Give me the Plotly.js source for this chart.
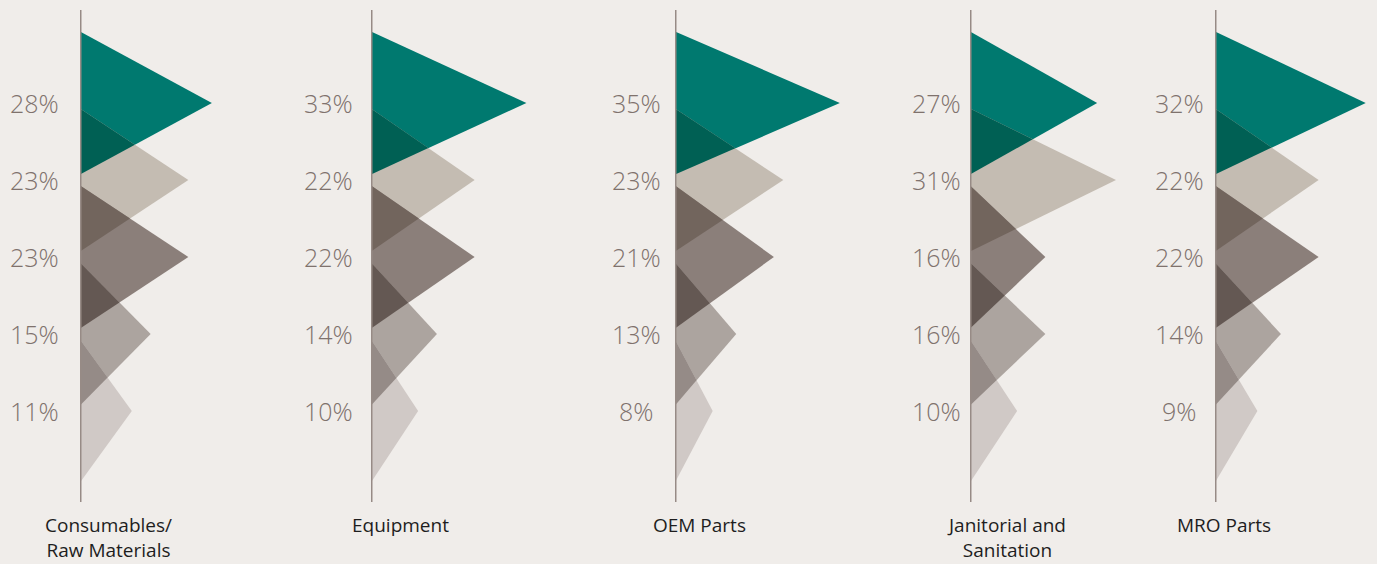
<!DOCTYPE html>
<html>
<head>
<meta charset="utf-8">
<script src="https://cdn.plot.ly/plotly-3.0.1.min.js"></script>
<style>
  html, body { margin: 0; padding: 0; background: #f0edea; }
  #chart { width: 1377px; height: 564px; }
</style>
</head>
<body>
<div id="chart"></div>
<script>
// ---- data ----
const categories = ["Consumables/<br>Raw Materials", "Equipment", "OEM Parts", "Janitorial and<br>Sanitation", "MRO Parts"];
const consumables = [28, 23, 23, 15, 11];
const equipment   = [33, 22, 22, 14, 10];
const oemParts    = [35, 23, 21, 13, 8];
const janitorial  = [27, 31, 16, 16, 10];
const mroParts    = [32, 22, 22, 14, 9];
const panelValues = [consumables, equipment, oemParts, janitorial, mroParts];

// ---- style / layout constants ----
const W = 1377, H = 564;
const BG = "#f0edea";
const tierColors = ["#00796f", "#c4bcb2", "#8b7f7a", "#aca49f", "#d0c9c6"];
const axisPx = [80, 371, 675, 970, 1215];      // panel baseline centres (px)
const pctLabelPx = [34, 328, 636, 936, 1179];   // centre of % labels (px)
const catLabelPx = [108, 400, 700, 1006, 1224]; // centre of category labels (px)
const PX_PER_PCT = 4.71;
const ROW0_PX = 103, ROW_STEP_PX = 77;          // vertical rank spacing
const HALF = 71.5 / ROW_STEP_PX;                // triangle half height in rank units
const PANEL_W = 200;
const CAT_TOP_PX = 510;

function hex2rgb(h) { return [1,3,5].map(i => parseInt(h.substr(i, 2), 16)); }
function multiply(c1, c2) {
  const a = hex2rgb(c1), b = hex2rgb(c2), g = hex2rgb(BG);
  const r = a.map((v, i) => Math.round(v * b[i] / g[i]));
  return "rgb(" + r.join(",") + ")";
}

const traces = [];
const layout = {
  width: W, height: H,
  margin: {l: 0, r: 0, t: 0, b: 0, pad: 0},
  paper_bgcolor: BG, plot_bgcolor: BG,
  showlegend: false,
  yaxis: {
    range: [(H - ROW0_PX) / ROW_STEP_PX, -ROW0_PX / ROW_STEP_PX],
    domain: [0, 1], visible: false, fixedrange: true
  },
  shapes: [], annotations: []
};

panelValues.forEach((vals, p) => {
  const ax = p === 0 ? "x" : "x" + (p + 1);
  const axName = p === 0 ? "xaxis" : "xaxis" + (p + 1);
  const x0 = axisPx[p];
  const x1 = Math.min(x0 + PANEL_W, W);
  layout[axName] = {
    domain: [x0 / W, x1 / W],
    range: [0, (x1 - x0) / PX_PER_PCT],
    visible: false, fixedrange: true, anchor: "y"
  };
  // triangles
  vals.forEach((v, k) => {
    traces.push({
      type: "scatter", mode: "lines", xaxis: ax, yaxis: "y",
      x: [0, v, 0, 0], y: [k - HALF, k, k + HALF, k - HALF],
      fill: "toself", fillcolor: tierColors[k],
      line: {width: 0, color: tierColors[k]}, hoverinfo: "skip"
    });
  });
  // overlaps between neighbouring triangles (multiply blend)
  for (let k = 0; k < vals.length - 1; k++) {
    const a = vals[k], b = vals[k + 1];
    const t = (a * HALF + b * (1 - HALF)) / (a + b);
    const xi = a * (HALF - t) / HALF;
    const col = multiply(tierColors[k], tierColors[k + 1]);
    traces.push({
      type: "scatter", mode: "lines", xaxis: ax, yaxis: "y",
      x: [0, xi, 0, 0], y: [k + 1 - HALF, k + t, k + HALF, k + 1 - HALF],
      fill: "toself", fillcolor: col,
      line: {width: 0, color: col}, hoverinfo: "skip"
    });
  }
  // baseline
  layout.shapes.push({
    type: "line", xref: ax, yref: "paper",
    x0: 0, x1: 0, y0: 1 - 502 / H, y1: 1 - 10 / H,
    line: {color: "#978b86", width: 3}
  });
  // percentage labels
  vals.forEach((v, k) => {
    layout.annotations.push({
      xref: "paper", yref: "y", x: pctLabelPx[p] / W, y: k,
      xanchor: "center", yanchor: "middle", showarrow: false,
      text: v + "%",
      font: {family: "Open Sans, sans-serif", size: 25, color: "#7f726d", weight: 300}
    });
  });
  // category label
  layout.annotations.push({
    xref: "paper", yref: "paper", x: catLabelPx[p] / W, y: 1 - CAT_TOP_PX / H,
    xanchor: "center", yanchor: "top", align: "center", showarrow: false,
    text: categories[p],
    font: {family: "Open Sans, sans-serif", size: 19, color: "#1e1e1e"}
  });
});

Plotly.newPlot("chart", traces, layout, {staticPlot: true, displayModeBar: false});
</script>
</body>
</html>
